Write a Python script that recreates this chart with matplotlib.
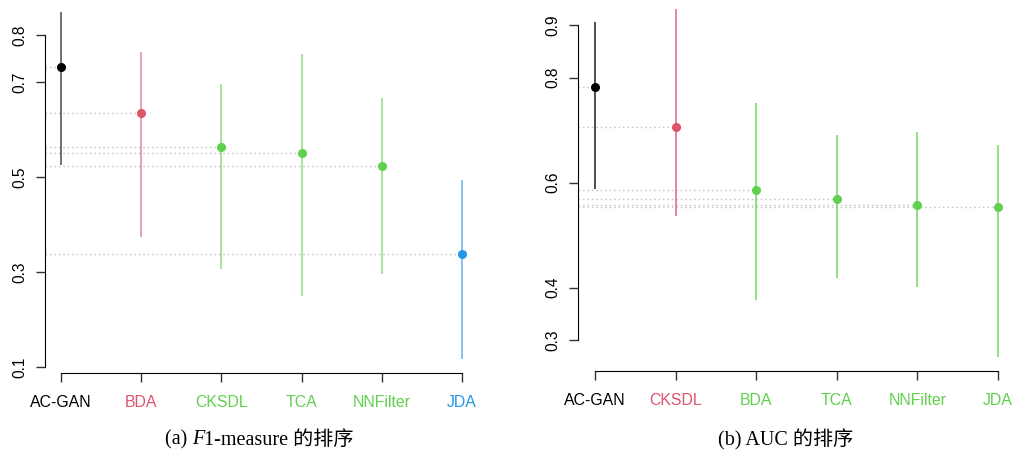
import matplotlib
matplotlib.use("Agg")
import matplotlib.pyplot as plt

plt.rcParams['font.family'] = ['Liberation Sans', 'DejaVu Sans']

# ---- data: F1-measure ----
f1_names = ["AC-GAN", "BDA", "CKSDL", "TCA", "NNFilter", "JDA"]
f1_mid = [0.733, 0.636, 0.564, 0.551, 0.524, 0.338]
f1_low = [0.526, 0.374, 0.307, 0.250, 0.296, 0.117]
f1_high = [0.849, 0.765, 0.697, 0.760, 0.667, 0.495]
f1_colors = ["#000000", "#DF536B", "#61D04F", "#61D04F", "#61D04F", "#2297E6"]
f1_yticks = [0.1, 0.3, 0.5, 0.7, 0.8]

# ---- data: AUC ----
auc_names = ["AC-GAN", "CKSDL", "BDA", "TCA", "NNFilter", "JDA"]
auc_mid = [0.782, 0.706, 0.586, 0.568, 0.557, 0.553]
auc_low = [0.588, 0.536, 0.376, 0.418, 0.401, 0.268]
auc_high = [0.906, 0.930, 0.751, 0.690, 0.696, 0.671]
auc_colors = ["#000000", "#DF536B", "#61D04F", "#61D04F", "#61D04F", "#61D04F"]
auc_yticks = [0.3, 0.4, 0.6, 0.8, 0.9]

W, H = 1013, 455
fig = plt.figure(figsize=(W / 100, H / 100), dpi=100)


def px_axes(x0, y0, x1, y1):
    return fig.add_axes([x0 / W, 1 - y1 / H, (x1 - x0) / W, (y1 - y0) / H])


def panel(ax, names, mid, low, high, colors, yticks, xlim, ylim, line_alpha):
    ax.set_xlim(*xlim)
    ax.set_ylim(*ylim)
    xs = list(range(1, len(names) + 1))
    for x, m, c in zip(xs, mid, colors):
        ax.plot([xlim[0], x], [m, m], color="#C8C8C8", lw=1.0,
                linestyle=(0, (1.2, 2)), zorder=1, clip_on=False)
    for x, m, lo, hi, c in zip(xs, mid, low, high, colors):
        ax.plot([x, x], [lo, hi], color=c, lw=1.3, alpha=line_alpha, zorder=2,
                clip_on=False, solid_capstyle='butt')
        ax.plot([x], [m], 'o', color=c, ms=5.5, zorder=3, clip_on=False)
    for s in ["top", "right"]:
        ax.spines[s].set_visible(False)
    ax.spines["left"].set_bounds(min(yticks), max(yticks))
    ax.spines["bottom"].set_bounds(1, len(names))
    ax.tick_params(axis="y", length=6.5, width=1, pad=6, colors="#333333",
                   labelcolor="#000000")
    ax.tick_params(axis="x", length=6.5, width=1, pad=9, colors="#333333")
    ax.set_yticks(yticks)
    ax.set_yticklabels([f"{v:.1f}" for v in yticks], rotation=90, va="center",
                       fontsize=11.2)
    ax.set_xticks(xs)
    ax.set_xticklabels(names, fontsize=11.4)
    for lab, c in zip(ax.get_xticklabels(), colors):
        lab.set_color(c)
    ax.patch.set_alpha(0)


# left panel: y = 0.1 at px 367, 0.8 at px 35 ; x = 1 at px 61, 6 at px 462
ys = (367 - 35) / 0.7
xs_ = (462 - 61) / 5
ax1 = px_axes(45, 5, 480, 373)
panel(ax1, f1_names, f1_mid, f1_low, f1_high, f1_colors, f1_yticks,
      (1 - 16 / xs_, 6 + 18 / xs_), (0.1 - 6 / ys, 0.1 + 362 / ys), 0.6)

# right panel: y = 0.3 at px 340, 0.9 at px 25 ; x = 1 at px 595, 6 at px 998
ys2 = (340 - 25) / 0.6
xs2 = (998 - 595) / 5
ax2 = px_axes(578, 2, 1012, 371)
panel(ax2, auc_names, auc_mid, auc_low, auc_high, auc_colors, auc_yticks,
      (1 - 17 / xs2, 6 + 14 / xs2), (0.3 - 31 / ys2, 0.3 + 338 / ys2), 0.75)

cap_font = ['Liberation Serif', 'Noto Sans CJK SC']
renderer = fig.canvas.get_renderer()


def caption(cx, cy, parts):
    texts = []
    for s, style in parts:
        t = fig.text(0, 1 - cy / H, s, ha="left", va="center", fontsize=14.5,
                     family=cap_font, style=style)
        texts.append(t)
    widths = [t.get_window_extent(renderer).width for t in texts]
    total = sum(widths)
    x = cx - total / 2
    for t, w in zip(texts, widths):
        t.set_x(x / W)
        x += w


caption(259, 440, [("(a) ", "normal"), ("F", "italic"),
                   ("1-measure 的排序", "normal")])
caption(786, 440, [("(b) AUC 的排序", "normal")])

fig.savefig("out.png", dpi=100)
